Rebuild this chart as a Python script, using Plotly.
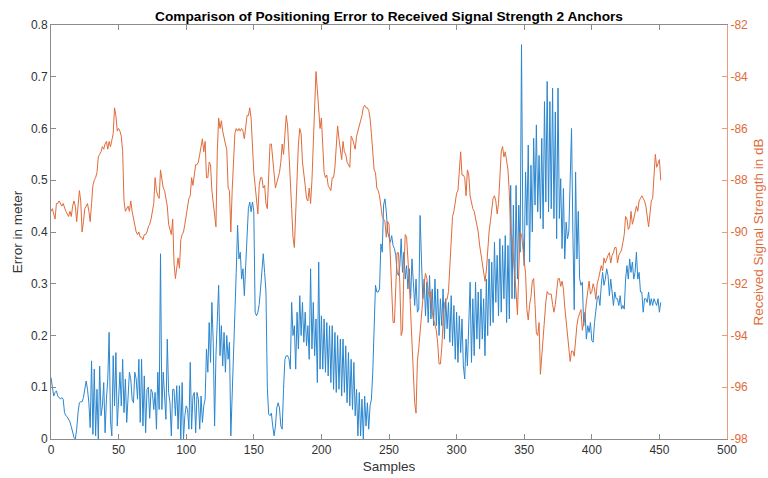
import numpy as np
import plotly.graph_objects as go

# Positioning error (m) per sample
error_m = [
    0.119, 0.096, 0.083, 0.090, 0.093, 0.083, 0.080, 0.077, 0.080, 0.077,
    0.051, 0.045, 0.043, 0.038, 0.033, 0.024, 0.012, 0.003, 0.000, 0.019,
    0.051, 0.070, 0.072, 0.072, 0.080, 0.096, 0.112, 0.096, 0.070, 0.022,
    0.151, 0.009, 0.135, 0.006, 0.096, 0.000, 0.141, 0.045, 0.064, 0.109,
    0.012, 0.077, 0.116, 0.206, 0.035, 0.006, 0.161, 0.064, 0.167, 0.025,
    0.070, 0.129, 0.064, 0.154, 0.051, 0.116, 0.032, 0.096, 0.129, 0.116,
    0.077, 0.070, 0.129, 0.116, 0.077, 0.154, 0.032, 0.154, 0.025, 0.122,
    0.012, 0.096, 0.100, 0.040, 0.096, 0.090, 0.057, 0.090, 0.019, 0.129,
    0.057, 0.358, 0.057, 0.129, 0.083, 0.038, 0.193, 0.090, 0.070, 0.006,
    0.096, 0.096, 0.045, 0.103, 0.019, 0.103, 0.000, 0.109, 0.000, 0.045,
    0.064, 0.057, 0.019, 0.148, 0.019, 0.083, 0.090, 0.012, 0.090, 0.077,
    0.019, 0.083, 0.032, 0.064, 0.077, 0.174, 0.129, 0.225, 0.148, 0.264,
    0.187, 0.025, 0.161, 0.219, 0.297, 0.161, 0.219, 0.141, 0.206, 0.129,
    0.200, 0.154, 0.187, 0.006, 0.077, 0.161, 0.258, 0.322, 0.413, 0.348,
    0.361, 0.309, 0.329, 0.277, 0.335, 0.387, 0.445, 0.458, 0.439, 0.458,
    0.440, 0.245, 0.238, 0.245, 0.260, 0.290, 0.335, 0.358, 0.322, 0.284,
    0.100, 0.048, 0.045, 0.050, 0.025, 0.006, 0.025, 0.060, 0.070, 0.060,
    0.025, 0.019, 0.096, 0.154, 0.161, 0.161, 0.155, 0.135, 0.264, 0.200,
    0.219, 0.135, 0.245, 0.174, 0.277, 0.200, 0.264, 0.187, 0.245, 0.180,
    0.219, 0.154, 0.329, 0.174, 0.264, 0.161, 0.232, 0.109, 0.342, 0.135,
    0.238, 0.135, 0.232, 0.129, 0.225, 0.122, 0.219, 0.109, 0.219, 0.096,
    0.206, 0.090, 0.200, 0.096, 0.193, 0.083, 0.193, 0.090, 0.180, 0.070,
    0.167, 0.064, 0.154, 0.057, 0.148, 0.045, 0.096, 0.006, 0.090, 0.006,
    0.077, 0.000, 0.083, 0.025, 0.070, 0.019, 0.064, 0.077, 0.129, 0.206,
    0.297, 0.284, 0.284, 0.290, 0.377, 0.361, 0.452, 0.464, 0.439, 0.400,
    0.387, 0.380, 0.393, 0.374, 0.368, 0.355, 0.322, 0.316, 0.335, 0.387,
    0.322, 0.361, 0.309, 0.335, 0.290, 0.329, 0.271, 0.348, 0.303, 0.258,
    0.309, 0.245, 0.251, 0.432, 0.348, 0.271, 0.309, 0.238, 0.303, 0.225,
    0.316, 0.232, 0.290, 0.219, 0.309, 0.219, 0.290, 0.200, 0.271, 0.219,
    0.290, 0.193, 0.271, 0.213, 0.264, 0.187, 0.277, 0.180, 0.258, 0.154,
    0.245, 0.148, 0.238, 0.167, 0.232, 0.141, 0.116, 0.193, 0.141, 0.219,
    0.303, 0.148, 0.271, 0.161, 0.303, 0.193, 0.284, 0.174, 0.290, 0.193,
    0.271, 0.161, 0.309, 0.200, 0.348, 0.219, 0.342, 0.225, 0.380, 0.264,
    0.355, 0.238, 0.387, 0.245, 0.374, 0.271, 0.393, 0.225, 0.374, 0.232,
    0.490, 0.271, 0.452, 0.271, 0.490, 0.309, 0.452, 0.361, 0.762, 0.400,
    0.335, 0.516, 0.413, 0.568, 0.342, 0.529, 0.400, 0.581, 0.452, 0.607,
    0.439, 0.548, 0.426, 0.581, 0.406, 0.652, 0.458, 0.691, 0.439, 0.652,
    0.445, 0.678, 0.426, 0.632, 0.387, 0.678, 0.426, 0.503, 0.368, 0.484,
    0.348, 0.419, 0.387, 0.400, 0.484, 0.600, 0.400, 0.250, 0.516, 0.348,
    0.440, 0.310, 0.297, 0.303, 0.219, 0.245, 0.193, 0.219, 0.206, 0.225,
    0.190, 0.187, 0.225, 0.245, 0.271, 0.277, 0.258, 0.297, 0.322, 0.297,
    0.309, 0.329, 0.316, 0.277, 0.309, 0.284, 0.258, 0.284, 0.271, 0.271,
    0.258, 0.277, 0.251, 0.258, 0.251, 0.309, 0.335, 0.309, 0.348, 0.322,
    0.342, 0.309, 0.322, 0.361, 0.309, 0.322, 0.284, 0.284, 0.245, 0.271,
    0.271, 0.264, 0.284, 0.258, 0.271, 0.258, 0.271, 0.264, 0.258, 0.271,
    0.245, 0.264,
]

# Received signal strength (dB) per sample
rss_db = [
    -89.2, -89.1, -89.3, -89.5, -88.9, -88.9, -88.8, -88.9, -89.0, -88.9,
    -89.1, -89.2, -89.3, -89.4, -89.2, -89.4, -89.0, -88.8, -89.0, -89.6,
    -89.0, -88.4, -88.8, -90.0, -89.6, -89.1, -89.0, -88.9, -89.2, -89.6,
    -88.9, -88.2, -88.0, -87.9, -87.7, -87.1, -87.0, -86.9, -86.7, -86.8,
    -86.6, -86.5, -86.8, -86.5, -86.7, -86.5, -86.2, -85.2, -85.5, -86.1,
    -86.0, -86.1, -86.3, -86.9, -88.8, -89.2, -89.1, -89.0, -89.2, -88.8,
    -89.2, -89.5, -89.8, -90.0, -90.1, -90.0, -90.2, -90.2, -90.3, -90.1,
    -90.1, -90.0, -89.8, -89.7, -89.5, -89.2, -88.9, -87.9, -88.4, -88.6,
    -88.7, -87.6, -87.9, -88.3, -88.4, -88.8, -89.0, -89.7, -89.9, -90.1,
    -89.5, -91.2, -91.8, -91.4, -91.0, -91.4, -90.3, -90.1, -90.0, -89.7,
    -89.4, -89.0, -88.7, -88.6, -87.9, -88.2, -87.8, -87.4, -87.4, -87.3,
    -87.0, -86.6, -86.4, -86.9, -86.5, -87.9, -87.9, -87.3, -87.4, -88.4,
    -88.8, -89.3, -89.8, -86.9, -85.6, -86.0, -85.7, -86.1, -86.4, -86.6,
    -86.8, -88.3, -88.4, -90.0, -88.4, -86.9, -86.2, -86.0, -86.1, -86.0,
    -86.1, -86.0, -86.1, -86.4, -86.0, -85.5, -85.5, -85.2, -85.6, -87.0,
    -87.7, -88.2, -88.7, -89.3, -88.2, -87.9, -87.9, -88.3, -88.2, -88.9,
    -89.1, -87.5, -86.6, -86.6, -87.2, -87.7, -88.3, -88.1, -87.9, -87.7,
    -87.3, -86.6, -87.0, -86.1, -85.5, -85.9, -87.3, -88.0, -89.1, -90.2,
    -90.6, -89.2, -87.9, -86.6, -86.0, -86.2, -87.3, -87.9, -88.2, -88.7,
    -88.8, -88.3, -88.9, -88.0, -86.6, -85.3, -83.8, -84.5, -85.1, -86.0,
    -85.6, -86.9, -87.7, -87.9, -87.8, -88.2, -88.3, -88.4, -87.9, -87.9,
    -87.5, -86.6, -85.9, -86.4, -86.8, -87.2, -86.5, -86.9, -87.0, -87.3,
    -87.4, -87.5, -86.3, -86.4, -86.6, -86.8, -86.3, -86.1, -86.0, -85.7,
    -85.5, -85.2, -85.1, -85.2, -85.2, -85.3, -85.6, -86.2, -86.9, -87.6,
    -87.7, -88.3, -88.4, -88.6, -89.0, -89.4, -89.5, -89.6, -90.2, -89.6,
    -89.7, -90.8, -92.2, -93.5, -93.5, -91.9, -90.8, -90.8, -92.0, -94.0,
    -93.8, -91.5, -90.1, -90.2, -90.9, -91.9, -93.1, -94.5, -95.7, -96.6,
    -97.0, -95.0, -94.5, -93.9, -93.0, -92.4, -92.0, -91.6, -91.8, -92.3,
    -92.5, -92.3, -93.1, -93.4, -93.6, -93.8, -94.3, -95.1, -95.1, -94.5,
    -93.5, -92.8, -92.6, -92.6, -92.3, -91.2, -90.0, -89.4, -89.2, -88.8,
    -88.5, -88.4, -87.8, -86.9, -87.8, -87.8, -87.9, -88.6, -87.6, -87.8,
    -88.6, -88.9, -89.1, -89.2, -89.5, -89.7, -90.0, -90.5, -90.9, -91.2,
    -91.7, -91.9, -91.5, -90.7, -90.0, -89.6, -89.1, -88.7, -88.6, -88.8,
    -89.3, -88.9, -87.9, -86.9, -86.7, -87.1, -86.9, -87.2, -87.6, -88.5,
    -90.0, -90.2, -91.2, -91.7, -92.3, -93.2, -91.5, -90.0, -90.1, -90.6,
    -91.2, -91.6, -93.0, -93.4, -92.8, -92.5, -91.9, -91.8, -92.8, -93.9,
    -94.0, -93.5, -95.5, -94.9, -94.0, -93.4, -92.7, -92.3, -92.4, -92.4,
    -92.4, -92.8, -93.1, -92.8, -92.2, -91.8, -91.8, -92.1, -91.9, -92.2,
    -92.9, -93.5, -94.1, -94.5, -95.0, -94.6, -94.6, -94.8, -94.0, -93.6,
    -93.3, -93.1, -93.0, -93.8, -93.5, -93.2, -92.7, -92.2, -91.9, -92.4,
    -92.3, -92.0, -92.2, -92.6, -92.0, -91.8, -91.6, -91.3, -91.5, -91.0,
    -91.2, -91.0, -90.9, -90.8, -91.2, -90.9, -90.8, -90.6, -90.6, -91.2,
    -90.9, -90.8, -90.7, -90.4, -90.1, -89.4, -89.5, -89.9, -89.8, -89.2,
    -89.7, -89.5, -89.2, -89.0, -89.2, -88.8, -88.7, -88.6, -88.7, -88.8,
    -89.0, -89.4, -89.8, -89.3, -88.8, -88.7, -87.9, -87.0, -87.5, -87.3,
    -87.2, -88.0,
]

# Axis ticks
x_ticks = list(range(0, 501, 50))
left_ticks = [0, 0.1, 0.2, 0.3, 0.4, 0.5, 0.6, 0.7, 0.8]
right_ticks = list(range(-98, -81, 2))
right_ticktext = [str(v) for v in right_ticks]

BLUE = "#2a86cf"
ORANGE = "#e06b3a"
AXLINE = "#8c8c8c"
AXTEXT = "#333333"
ORANGE_AX = "#ec9a78"
FONT = "Liberation Sans, Arial, Helvetica, sans-serif"

samples_err = np.arange(len(error_m))
samples_rss = np.arange(len(rss_db))

fig = go.Figure()
fig.add_trace(go.Scatter(x=samples_err, y=error_m, mode="lines",
                         line=dict(color=BLUE, width=1), yaxis="y",
                         showlegend=False, hoverinfo="skip"))
fig.add_trace(go.Scatter(x=samples_rss, y=rss_db, mode="lines",
                         line=dict(color=ORANGE, width=1), yaxis="y2",
                         showlegend=False, hoverinfo="skip"))

fig.update_layout(
    width=768, height=478,
    margin=dict(l=51, r=41, t=25, b=39, autoexpand=False),
    paper_bgcolor="white", plot_bgcolor="white",
    font=dict(family=FONT, size=12, color=AXTEXT),
    title=dict(text="<b>Comparison of Positioning Error to Received Signal Strength 2 Anchors</b>",
               x=0.5, xref="paper", xanchor="center",
               y=1 - 16 / 478, yref="container", yanchor="middle",
               automargin=False,
               font=dict(family=FONT, size=13.7, color="black")),
    xaxis=dict(range=[0, 500], tickvals=x_ticks, ticks="inside", ticklen=5,
               tickcolor=AXLINE, showline=True, linecolor=AXLINE, linewidth=1,
               mirror="ticks", showgrid=False, zeroline=False, automargin=False,
               tickfont=dict(size=12, color=AXTEXT),
               title=dict(text="Samples", font=dict(size=13.5, color=AXTEXT), standoff=5)),
    yaxis=dict(range=[0, 0.8], tickvals=left_ticks, ticks="inside", ticklen=5,
               tickcolor=AXLINE, showline=True, linecolor=AXLINE, linewidth=1,
               showgrid=False, zeroline=False, automargin=False,
               tickfont=dict(size=12, color=AXTEXT),
               title=dict(text="Error in meter", font=dict(size=13.5, color=AXTEXT), standoff=5)),
    yaxis2=dict(range=[-98, -82], overlaying="y", side="right",
                tickvals=right_ticks, ticktext=right_ticktext,
                ticks="inside", ticklen=5, tickcolor=ORANGE_AX,
                showline=True, linecolor=ORANGE_AX, linewidth=1,
                showgrid=False, zeroline=False, automargin=False,
                tickfont=dict(size=12, color=ORANGE),
                title=dict(text="Received Signal Strength in dB",
                           font=dict(size=13.5, color=ORANGE), standoff=6)),
)

fig.write_html("out.html")
